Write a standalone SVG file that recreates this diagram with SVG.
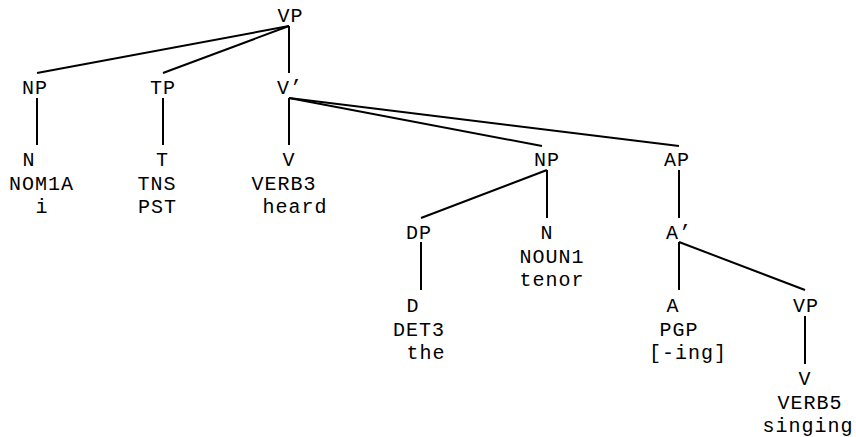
<svg xmlns="http://www.w3.org/2000/svg" width="856" height="437" viewBox="0 0 856 437">
<style>
text{font-family:"Liberation Mono","DejaVu Sans Mono",monospace;font-size:20px;letter-spacing:1px;fill:#000;text-anchor:middle}
.e line{stroke:#000;stroke-width:2;stroke-linecap:butt}
</style>
<rect width="856" height="437" fill="#fff"/>
<g class="e" id="connectors">
<line x1="289" y1="26" x2="37" y2="73"/>
<line x1="289" y1="26" x2="163" y2="73"/>
<line x1="289" y1="26" x2="289" y2="73"/>
<line x1="37" y1="98" x2="37" y2="145"/>
<line x1="163" y1="98" x2="163" y2="145"/>
<line x1="289" y1="98" x2="289" y2="145"/>
<line x1="289" y1="98" x2="542" y2="146"/>
<line x1="289" y1="98" x2="679" y2="146"/>
<line x1="547" y1="170" x2="421" y2="218"/>
<line x1="547" y1="170" x2="547" y2="218"/>
<line x1="679" y1="170" x2="679" y2="218"/>
<line x1="421" y1="242" x2="421" y2="290"/>
<line x1="679" y1="242" x2="679" y2="290"/>
<line x1="679" y1="242" x2="805" y2="290"/>
<line x1="805" y1="316" x2="805" y2="364"/>
</g>
<g id="n-vp"><text x="290.5" y="22">VP</text></g>
<g id="n-np1"><text x="35" y="94">NP</text></g>
<g id="n-tp"><text x="163" y="94">TP</text></g>
<g id="n-vbar"><text x="290" y="94">V’</text></g>
<g id="n-n1"><text x="29" y="166">N</text><text x="41.5" y="189.5">NOM1A</text><text x="42" y="213">i</text></g>
<g id="n-t"><text x="162.5" y="166">T</text><text x="157" y="189.5">TNS</text><text x="157.5" y="213">PST</text></g>
<g id="n-v1"><text x="289" y="166">V</text><text x="284" y="189.5">VERB3</text><text x="295" y="213">heard</text></g>
<g id="n-np2"><text x="547" y="166">NP</text></g>
<g id="n-ap"><text x="677" y="166">AP</text></g>
<g id="n-dp"><text x="419" y="239">DP</text></g>
<g id="n-n2"><text x="547" y="239">N</text><text x="552" y="262.5">NOUN1</text><text x="552" y="286">tenor</text></g>
<g id="n-abar"><text x="679" y="239">A’</text></g>
<g id="n-d"><text x="413" y="312">D</text><text x="419" y="335.5">DET3</text><text x="426" y="359">the</text></g>
<g id="n-a"><text x="673" y="312">A</text><text x="679" y="335.5">PGP</text><text x="688" y="359">[-ing]</text></g>
<g id="n-vp2"><text x="806" y="312">VP</text></g>
<g id="n-v2"><text x="805" y="385">V</text><text x="810" y="408.5">VERB5</text><text x="808" y="432">singing</text></g>
</svg>
